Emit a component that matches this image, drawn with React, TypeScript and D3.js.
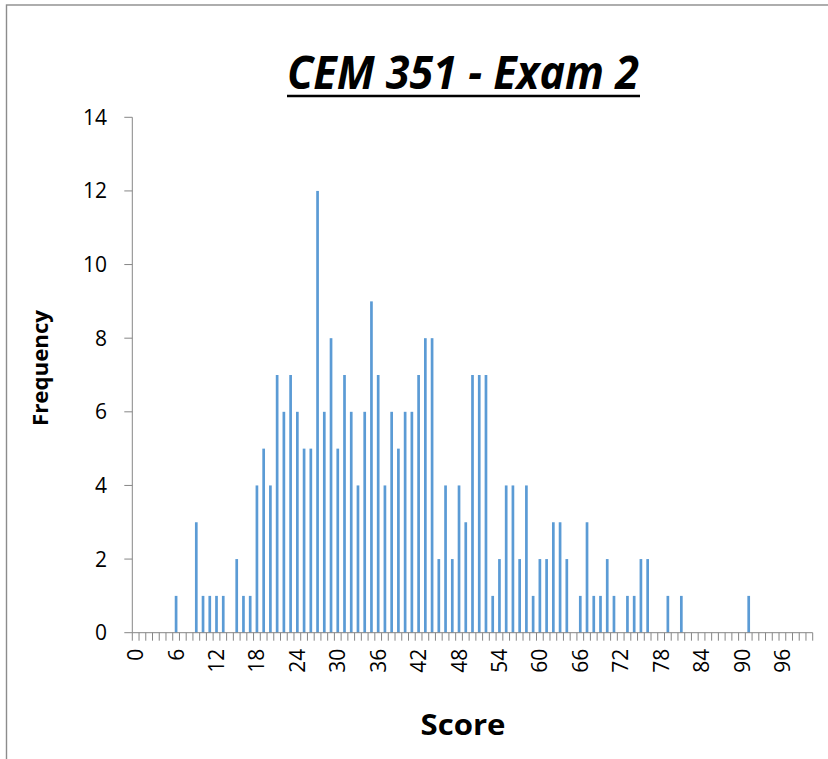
import React, { useRef, useEffect } from "react";
import * as d3 from "d3";

// frequency of each score, 0..100
const frequencies = [
  0, 0, 0, 0, 0, 0, 1, 0, 0, 3,
  1, 1, 1, 1, 0, 2, 1, 1, 4, 5,
  4, 7, 6, 7, 6, 5, 5, 12, 6, 8,
  5, 7, 6, 4, 6, 9, 7, 4, 6, 5,
  6, 6, 7, 8, 8, 2, 4, 2, 4, 3,
  7, 7, 7, 1, 2, 4, 4, 2, 4, 1,
  2, 2, 3, 3, 2, 0, 1, 3, 1, 1,
  2, 1, 0, 1, 1, 2, 2, 0, 0, 1,
  0, 1, 0, 0, 0, 0, 0, 0, 0, 0,
  0, 1, 0, 0, 0, 0, 0, 0, 0, 0,
  0,
];
const scores = frequencies.map((_, i) => i);
const xTickLabels = [0, 6, 12, 18, 24, 30, 36, 42, 48, 54, 60, 66, 72, 78, 84, 90, 96];
const yTicks = [0, 2, 4, 6, 8, 10, 12, 14];

const title = "CEM 351 - Exam 2";
const xTitle = "Score";
const yTitle = "Frequency";

const App: React.FC = () => {
  const svgRef = useRef<SVGSVGElement>(null);

  const width = 828;
  const height = 759;

  useEffect(() => {
    if (!svgRef.current) return;
    const svg = d3.select(svgRef.current);
    svg.selectAll("*").remove();

    const plot = { left: 132.3, right: 812.7, top: 117.3, bottom: 632.7 };
    const axisColor = "#868686";
    const font = "'Open Sans', 'Liberation Sans', sans-serif";

    // outer chart border (right/bottom edges fall outside the picture)
    svg
      .append("rect")
      .attr("x", 6.5)
      .attr("y", 5)
      .attr("width", 900)
      .attr("height", 900)
      .attr("fill", "white")
      .attr("stroke", "#8c8c8c")
      .attr("stroke-width", 1.4);

    const xScale = d3
      .scaleBand<number>()
      .domain(scores)
      .range([plot.left, plot.right])
      .paddingInner(0.6)
      .paddingOuter(0.3);

    const yScale = d3
      .scaleLinear()
      .domain([0, 14])
      .range([plot.bottom, plot.top]);

    const step = xScale.step();
    const bw = xScale.bandwidth();
    const center = (s: number) => xScale(s)! + bw / 2;

    // bars
    svg
      .append("g")
      .selectAll("rect")
      .data(scores.filter((s) => frequencies[s] > 0))
      .enter()
      .append("rect")
      .attr("x", (s) => xScale(s)!)
      .attr("y", (s) => yScale(frequencies[s]))
      .attr("width", bw)
      .attr("height", (s) => yScale(0) - yScale(frequencies[s]))
      .attr("fill", "#5B9BD5");

    // y axis
    const yAxis = svg.append("g");
    yAxis
      .append("line")
      .attr("x1", plot.left)
      .attr("x2", plot.left)
      .attr("y1", yScale(14))
      .attr("y2", yScale(0))
      .attr("stroke", axisColor);
    yAxis
      .selectAll("line.tick")
      .data(yTicks)
      .enter()
      .append("line")
      .attr("class", "tick")
      .attr("x1", plot.left - 8)
      .attr("x2", plot.left)
      .attr("y1", (d) => yScale(d))
      .attr("y2", (d) => yScale(d))
      .attr("stroke", axisColor);
    yAxis
      .selectAll("text")
      .data(yTicks)
      .enter()
      .append("text")
      .attr("x", 107)
      .attr("y", (d) => yScale(d))
      .attr("dy", "0.36em")
      .attr("text-anchor", "end")
      .attr("font-family", font)
      .attr("font-size", 21)
      .attr("fill", "#000")
      .text((d) => d);

    // x axis
    const xAxis = svg.append("g");
    xAxis
      .append("line")
      .attr("x1", plot.left)
      .attr("x2", plot.right)
      .attr("y1", plot.bottom)
      .attr("y2", plot.bottom)
      .attr("stroke", axisColor);
    const boundaries = scores.map((s) => center(s) - step / 2);
    boundaries.push(center(scores[scores.length - 1]) + step / 2);
    xAxis
      .selectAll("line.tick")
      .data(boundaries)
      .enter()
      .append("line")
      .attr("class", "tick")
      .attr("x1", (d) => d)
      .attr("x2", (d) => d)
      .attr("y1", plot.bottom)
      .attr("y2", plot.bottom + 8)
      .attr("stroke", axisColor);
    xAxis
      .selectAll("text")
      .data(xTickLabels)
      .enter()
      .append("text")
      .attr("transform", (d) => `translate(${center(d)},${plot.bottom + 16}) rotate(-90)`)
      .attr("dy", "0.36em")
      .attr("text-anchor", "end")
      .attr("font-family", font)
      .attr("font-size", 21)
      .attr("fill", "#000")
      .text((d) => d);

    // title
    svg
      .append("text")
      .attr("x", 287)
      .attr("y", 89)
      .attr("font-family", font)
      .attr("font-size", 46)
      .attr("font-weight", "bold")
      .attr("font-style", "italic")
      .attr("textLength", 352)
      .attr("lengthAdjust", "spacingAndGlyphs")
      .attr("fill", "#000")
      .text(title);
    svg
      .append("line")
      .attr("x1", 287)
      .attr("x2", 640)
      .attr("y1", 96)
      .attr("y2", 96)
      .attr("stroke", "#000")
      .attr("stroke-width", 2.5);

    // axis titles
    svg
      .append("text")
      .attr("x", 463)
      .attr("y", 735)
      .attr("text-anchor", "middle")
      .attr("font-family", font)
      .attr("font-size", 29)
      .attr("font-weight", "bold")
      .attr("textLength", 85)
      .attr("lengthAdjust", "spacingAndGlyphs")
      .attr("fill", "#000")
      .text(xTitle);
    svg
      .append("text")
      .attr("transform", "translate(48,368) rotate(-90)")
      .attr("text-anchor", "middle")
      .attr("font-family", font)
      .attr("font-size", 21)
      .attr("font-weight", "bold")
      .attr("textLength", 116)
      .attr("lengthAdjust", "spacingAndGlyphs")
      .attr("fill", "#000")
      .text(yTitle);
  }, []);

  return (
    <div style={{ position: "absolute", left: 0, top: 0 }}>
      <svg ref={svgRef} width={width} height={height} style={{ display: "block" }}></svg>
    </div>
  );
};

export default App;
